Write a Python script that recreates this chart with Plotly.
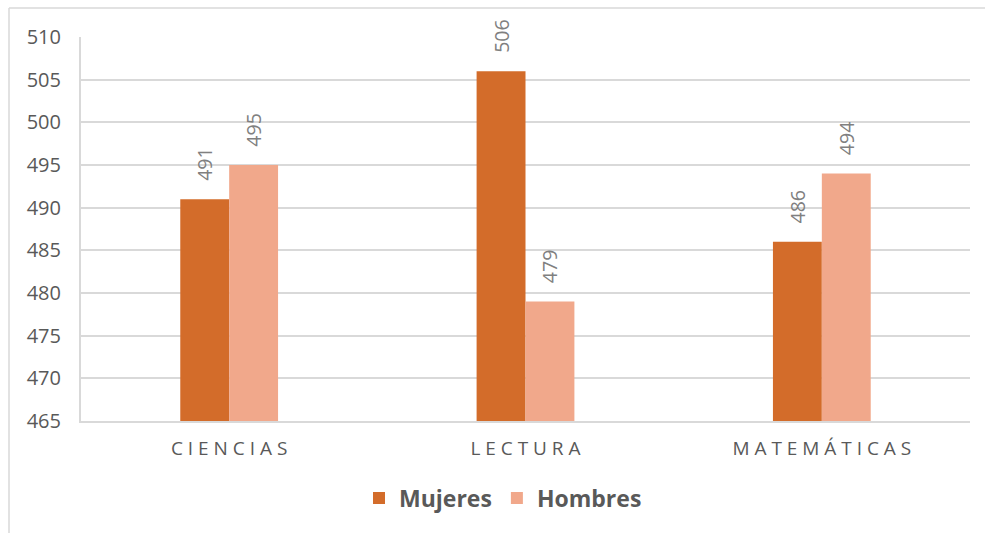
import plotly.graph_objects as go

categories = ["CIENCIAS", "LECTURA", "MATEMÁTICAS"]
mujeres = [491, 506, 486]
hombres = [495, 479, 494]
y_ticks = [465, 470, 475, 480, 485, 490, 495, 500, 505, 510]

# letter-spaced category labels
spaced = [" ".join(c) for c in categories]

W, H = 985, 533
L, R, T, B = 81, 15, 37, 112
pw, ph = W - L - R, H - T - B

fig = go.Figure()
for name, vals, color in [("Mujeres", mujeres, "#D36C2A"), ("Hombres", hombres, "#F1A88B")]:
    fig.add_trace(go.Bar(
        name="<b>" + name + "</b>", x=spaced, y=vals,
        marker_color=color, marker_line_width=0,
        # leading non-breaking spaces lift the rotated label off the bar top
        text=["\u00a0\u00a0\u00a0" + str(v) for v in vals],
        textposition="outside", textangle=-90,
        textfont=dict(size=21, color="#808080", family="Open Sans"),
        cliponaxis=False, hoverinfo="skip",
    ))

fig.update_layout(
    width=W, height=H,
    margin=dict(l=L, r=R, t=T, b=B),
    paper_bgcolor="white", plot_bgcolor="white",
    barmode="group", bargap=0.67, bargroupgap=0,
    font=dict(family="Open Sans", color="#595959"),
    showlegend=True,
    legend=dict(orientation="h", x=(503 - L) / pw, xanchor="center",
                y=-(498 - (T + ph)) / ph, yanchor="middle",
                font=dict(size=23, color="#595959", family="Open Sans"),
                itemwidth=30, traceorder="normal"),
    xaxis=dict(showline=True, linecolor="#d9d9d9", linewidth=2,
               tickfont=dict(size=19, color="#595959"), ticks="",
               ticklabelstandoff=9),
    yaxis=dict(range=[465, 510], tickvals=y_ticks, showgrid=True,
               gridcolor="#d9d9d9", gridwidth=1.5, showline=True,
               linecolor="#d9d9d9", linewidth=2, zeroline=False,
               tickfont=dict(size=20, color="#595959"), ticks="",
               ticklabelstandoff=14),
)

# outer chart frame (top and left edges)
fx0 = (9 - L) / pw
fy0 = 1 + (T - 8) / ph
fig.add_shape(type="line", xref="paper", yref="paper", x0=fx0, x1=(W - L) / pw,
              y0=fy0, y1=fy0, line=dict(color="#d9d9d9", width=1.5))
fig.add_shape(type="line", xref="paper", yref="paper", x0=fx0, x1=fx0,
              y0=fy0, y1=-(H - (T + ph)) / ph, line=dict(color="#d9d9d9", width=1.5))

fig.write_html("out.html")
